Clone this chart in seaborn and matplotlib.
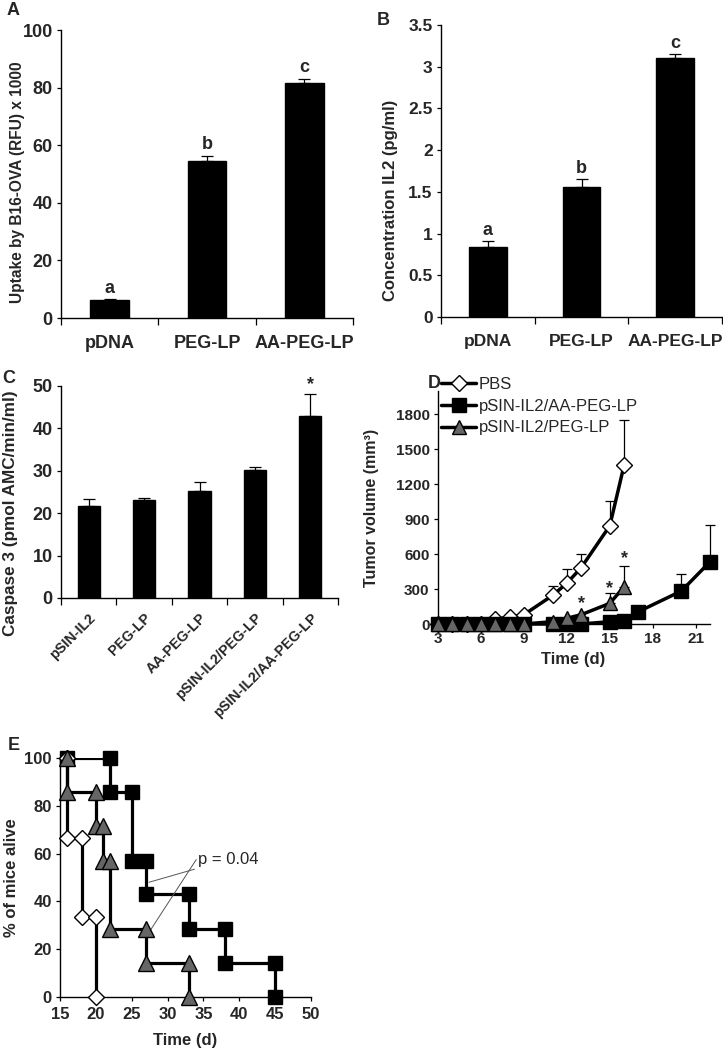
import numpy as np
import matplotlib
matplotlib.use("Agg")
import matplotlib.pyplot as plt
from matplotlib.lines import Line2D
import seaborn as sns

# ── Data ──────────────────────────────────────────────────────────────────────
# A: uptake by B16-OVA
cats_ab      = ["pDNA", "PEG-LP", "AA-PEG-LP"]
uptake       = [6.1, 54.5, 81.7]
uptake_err   = [0.5, 1.9, 1.4]
uptake_sig   = ["a", "b", "c"]

# B: IL2 concentration
il2          = [0.84, 1.56, 3.10]
il2_err      = [0.07, 0.09, 0.05]
il2_sig      = ["a", "b", "c"]

# C: caspase 3
cats_c       = ["pSIN-IL2", "PEG-LP", "AA-PEG-LP", "pSIN-IL2/PEG-LP",
                "pSIN-IL2/AA-PEG-LP"]
casp         = [21.6, 23.2, 25.3, 30.3, 43.0]
casp_err     = [1.7, 0.4, 2.0, 0.5, 5.0]
casp_sig     = ["", "", "", "", "*"]

# D: tumour volume
days_ctrl    = [3, 4, 5, 6, 7, 8, 9, 11, 12, 13, 15, 16]
vol_pbs      = [0, 0, 0, 0, 40, 60, 80, 245, 350, 483, 843, 1363]
err_pbs      = [0, 0, 0, 0, 0, 0, 0, 80, 120, 117, 210, 390]
vol_peg      = [0, 0, 0, 0, 0, 0, 0, 20, 49, 80, 177, 320]
err_peg      = [0, 0, 0, 0, 0, 0, 0, 0, 0, 0, 86, 180]
days_aa      = [3, 4, 5, 6, 7, 8, 9, 11, 12, 13, 15, 16, 17, 20, 22]
vol_aa       = [0, 0, 0, 0, 0, 0, 0, 0, 0, 0, 20, 26, 106, 283, 534]
err_aa       = [0, 0, 0, 0, 0, 0, 0, 0, 0, 0, 0, 0, 0, 143, 320]
star_days    = [13, 15, 16]
star_vals    = [175, 305, 560]

# E: survival (step points)
surv_pbs_t   = [16, 16, 18, 18, 20, 20]
surv_pbs     = [100, 66.7, 66.7, 33.3, 33.3, 0]
surv_peg_t   = [16, 16, 20, 20, 21, 21, 22, 22, 27, 27, 33, 33]
surv_peg     = [100, 85.7, 85.7, 71.4, 71.4, 57.1, 57.1, 28.6, 28.6, 14.3, 14.3, 0]
surv_aa_t    = [16, 22, 22, 25, 25, 27, 27, 33, 33, 38, 38, 45, 45]
surv_aa      = [100, 100, 85.7, 85.7, 57.1, 57.1, 42.9, 42.9, 28.6, 28.6, 14.3, 14.3, 0]

# ── Style ─────────────────────────────────────────────────────────────────────
sns.set_style("ticks")
plt.rcParams["font.family"] = ["Liberation Sans", "DejaVu Sans"]
plt.rcParams["font.weight"] = "bold"
plt.rcParams["axes.labelweight"] = "bold"
plt.rcParams["axes.linewidth"] = 1.0
plt.rcParams["xtick.direction"] = "out"
plt.rcParams["ytick.direction"] = "out"

W, H = 723, 1050
fig = plt.figure(figsize=(W / 100, H / 100), dpi=100)


def px_axes(left, top, right, bottom):
    return fig.add_axes([left / W, 1 - bottom / H, (right - left) / W,
                         (bottom - top) / H])


def excel_axes(ax, size=12):
    sns.despine(ax=ax)
    ax.tick_params(axis="both", which="major", length=3, width=0.9,
                   color="black", labelsize=size, pad=3)
    for s in ("left", "bottom"):
        ax.spines[s].set_color("black")


def bar_panel(ax, cats, vals, errs, sig, ylim, step, size=12, fs=12,
              rot=False):
    sns.barplot(x=cats, y=vals, color="black", saturation=1, width=0.4,
                errorbar=None, ax=ax, edgecolor="black")
    x = np.arange(len(cats))
    ax.errorbar(x, vals, yerr=[np.zeros(len(vals)), errs], fmt="none",
                ecolor="black", elinewidth=0.9, capsize=4, capthick=0.9)
    for xi, v, e, s in zip(x, vals, errs, sig):
        if s:
            ax.text(xi, v + e + ylim[1] * 0.008, s, ha="center", va="bottom",
                    fontsize=fs, fontweight="bold")
    ax.set_ylim(*ylim)
    ax.set_yticks(np.arange(0, ylim[1] + step / 2, step))
    ax.set_xlim(-0.5, len(cats) - 0.5)
    ax.set_xticks(np.arange(len(cats) + 1) - 0.5)
    ax.set_xticklabels([])
    ax.set_xticks(x, minor=True)
    excel_axes(ax, size)
    ax.tick_params(axis="x", which="major", length=5)
    if rot:
        ax.set_xticklabels(cats, minor=True, rotation=45, ha="right",
                           rotation_mode="anchor", fontsize=10.3)
        ax.tick_params(axis="x", which="minor", length=0, pad=9)
    else:
        ax.set_xticklabels(cats, minor=True, fontsize=size)
        ax.tick_params(axis="x", which="minor", length=0, pad=12)
    ax.set_xlabel("")


# ── A ─────────────────────────────────────────────────────────────────────────
axA = px_axes(61, 30, 353, 318)
bar_panel(axA, cats_ab, uptake, uptake_err, uptake_sig, (0, 100), 20,
          size=13, fs=13)
axA.set_ylabel("Uptake by B16-OVA (RFU) x 1000", fontsize=11.2)
axA.yaxis.set_label_coords((25 - 61) / 292, 0.47)

# ── B ─────────────────────────────────────────────────────────────────────────
axB = px_axes(441, 25, 722, 317)
bar_panel(axB, cats_ab, il2, il2_err, il2_sig, (0, 3.5), 0.5, size=12.5,
          fs=13)
axB.set_yticklabels(["0", "0.5", "1", "1.5", "2", "2.5", "3", "3.5"])
axB.set_ylabel("Concentration IL2 (pg/ml)", fontsize=12)
axB.yaxis.set_label_coords((398 - 441) / 281, 0.40)

# ── C ─────────────────────────────────────────────────────────────────────────
axC = px_axes(61, 386, 338, 598)
bar_panel(axC, cats_c, casp, casp_err, casp_sig, (0, 50), 10, size=13,
          fs=13, rot=True)
axC.set_ylabel("Caspase 3 (pmol AMC/min/ml)", fontsize=12.3)
axC.yaxis.set_label_coords((18 - 61) / 277, 0.40)

# ── D ─────────────────────────────────────────────────────────────────────────
axD = px_axes(438, 391, 710, 624)
series_d = [
    (days_ctrl, vol_pbs, err_pbs, "PBS", "D", "white", 8, 3),
    (days_aa, vol_aa, err_aa, "pSIN-IL2/AA-PEG-LP", "s", "black", 10, 4),
    (days_ctrl, vol_peg, err_peg, "pSIN-IL2/PEG-LP", "^", "#666666", 10, 5),
]
handles = []
for d, v, e, lab, mk, fc, ms, z in series_d:
    sns.lineplot(x=d, y=v, ax=axD, color="black", linewidth=2.5, marker=mk,
                 markerfacecolor=fc, markeredgecolor="black", markersize=ms,
                 markeredgewidth=1, zorder=z, clip_on=False,
                 sort=False, estimator=None)
    d_arr, v_arr, e_arr = np.array(d), np.array(v), np.array(e)
    m = e_arr > 0
    axD.errorbar(d_arr[m], v_arr[m], yerr=[np.zeros(m.sum()), e_arr[m]],
                 fmt="none", ecolor="black", elinewidth=0.9, capsize=3.5,
                 capthick=0.9, zorder=z - 0.5, clip_on=False)
    handles.append(Line2D([], [], color="black", linewidth=2.5, marker=mk,
                          markerfacecolor=fc, markeredgecolor="black",
                          markersize=ms, markeredgewidth=1, label=lab))
for sd, sv in zip(star_days, star_vals):
    axD.text(sd, sv, "*", ha="center", va="center", fontsize=13,
             fontweight="bold")
axD.set_xlim(3, 22)
axD.set_ylim(0, 2000)
axD.set_xticks(np.arange(3, 22, 3))
axD.set_yticks(np.arange(0, 1801, 300))
excel_axes(axD, 11)
axD.set_xlabel("Time (d)", fontsize=12)
axD.xaxis.set_label_coords((573 - 438) / 272, -0.12)
axD.set_ylabel("Tumor volume (mm³)", fontsize=11.5)
axD.yaxis.set_label_coords((379 - 438) / 272, 0.5)
axD.legend(handles=handles, loc="upper left",
           bbox_to_anchor=(441 / W, 1 - 377 / H),
           bbox_transform=fig.transFigure, frameon=False,
           prop={"weight": "normal", "size": 12}, handlelength=2.1,
           handletextpad=0.15, labelspacing=0.4, borderaxespad=0,
           borderpad=0)

# ── E ─────────────────────────────────────────────────────────────────────────
axE = px_axes(60, 758, 311, 997)
series_e = [
    (surv_aa_t, surv_aa, "s", "black", 10, 3),
    (surv_pbs_t, surv_pbs, "D", "white", 8, 4),
    (surv_peg_t, surv_peg, "^", "#666666", 11, 5),
]
for t, s, mk, fc, ms, z in series_e:
    sns.lineplot(x=t, y=s, ax=axE, color="black", linewidth=2.3, sort=False,
                 estimator=None, zorder=z)
    axE.plot(t, s, ls="none", marker=mk, markerfacecolor=fc,
             markeredgecolor="black", markersize=ms, markeredgewidth=1,
             clip_on=False, zorder=z + 0.5)
axE.annotate("p = 0.04", xy=(27.4, 48), xytext=(34.2, 57.5), fontsize=12,
             fontweight="normal", va="center",
             arrowprops=dict(arrowstyle="-", color="#555555", lw=0.7,
                             shrinkA=0, shrinkB=0))
axE.annotate("", xy=(27.4, 27), xytext=(34.0, 57.5),
             arrowprops=dict(arrowstyle="-", color="#555555", lw=0.7,
                             shrinkA=0, shrinkB=0))
axE.set_xlim(15, 50)
axE.set_ylim(0, 100)
axE.set_xticks(np.arange(15, 51, 5))
axE.set_yticks(np.arange(0, 101, 20))
excel_axes(axE, 12)
axE.tick_params(axis="x", pad=4)
axE.set_xlabel("Time (d)", fontsize=12)
axE.xaxis.set_label_coords(0.5, (997 - 1033) / 239)
axE.set_ylabel("% of mice alive", fontsize=12)
axE.yaxis.set_label_coords((19 - 60) / 251, 0.5)

# ── Panel letters ─────────────────────────────────────────────────────────────
for lx, ly, letter in [(7, 2, "A"), (377, 12, "B"), (2, 370, "C"),
                       (428, 375, "D"), (8, 737, "E")]:
    fig.text(lx / W, 1 - ly / H, letter, ha="left", va="top", fontsize=13,
             fontweight="bold")

fig.savefig("out.png", dpi=100)
